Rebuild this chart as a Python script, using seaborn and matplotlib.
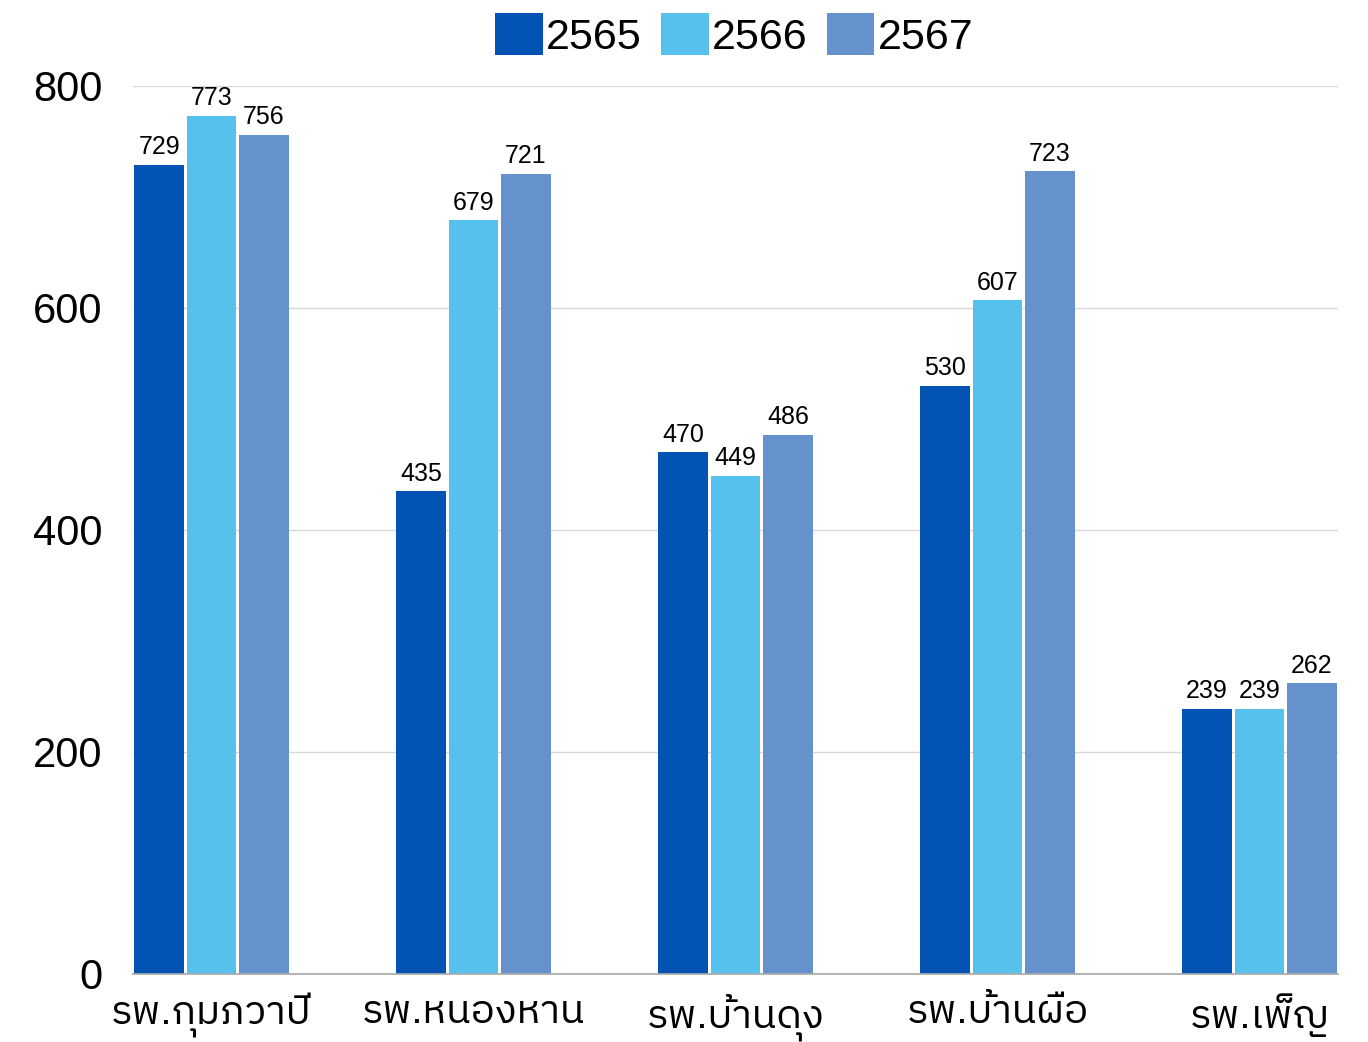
import matplotlib
matplotlib.use("Agg")
import matplotlib.pyplot as plt
from matplotlib import font_manager
import pandas as pd
import seaborn as sns

hospitals = ["รพ.กุมภวาปี", "รพ.หนองหาน", "รพ.บ้านดุง", "รพ.บ้านผือ", "รพ.เพ็ญ"]
years = ["2565", "2566", "2567"]
v2565 = [729, 435, 470, 530, 239]
v2566 = [773, 679, 449, 607, 239]
v2567 = [756, 721, 486, 723, 262]
colors = ["#0353B5", "#56C1EC", "#6592CD"]

df = pd.DataFrame({
    "hospital": hospitals * 3,
    "year": [y for y in years for _ in hospitals],
    "value": v2565 + v2566 + v2567,
})

sns.set_theme(style="white")
names = sorted({f.name for f in font_manager.fontManager.ttflist})
thai = [n for n in names if "Thai" in n or n in ("Loma", "Garuda", "Kinnari", "Norasi", "Waree", "Sarabun", "Tlwg Typo")]
plt.rcParams["font.family"] = ["Liberation Sans"] + thai[:1] + ["DejaVu Sans"]
plt.rcParams["text.color"] = "black"
plt.rcParams["xtick.color"] = "black"
plt.rcParams["ytick.color"] = "black"

fig = plt.figure(figsize=(13.68, 10.42), dpi=100)
ax = fig.add_axes([0.0972, 0.0653, 0.8809, 0.8522])
sns.barplot(data=df, x="hospital", y="value", hue="year", palette=colors,
            width=0.6, gap=0.05, saturation=1, edgecolor="none", ax=ax)

for cont in ax.containers:
    ax.bar_label(cont, padding=4, fontsize=18, color="black")

ax.set_xlim(-0.3, 4.3)
ax.set_ylim(0, 800)
ax.set_yticks([0, 200, 400, 600, 800])
ax.yaxis.grid(True, color="#d8d8d8", linewidth=1)
ax.set_axisbelow(True)
for s in ["top", "right", "left"]:
    ax.spines[s].set_visible(False)
ax.spines["bottom"].set_color("#aaaaaa")
ax.tick_params(axis="y", length=0, labelsize=30, pad=22)
ax.tick_params(axis="x", length=0, labelsize=29, pad=14)
ax.set_xlabel("")
ax.set_ylabel("")

ax.legend(loc="center", bbox_to_anchor=(0.499, 1.057), ncol=3, frameon=False,
          fontsize=31, handlelength=1.1, handleheight=1.1, handletextpad=0.08,
          columnspacing=0.45, borderaxespad=0)

fig.savefig("out.png", dpi=100)
